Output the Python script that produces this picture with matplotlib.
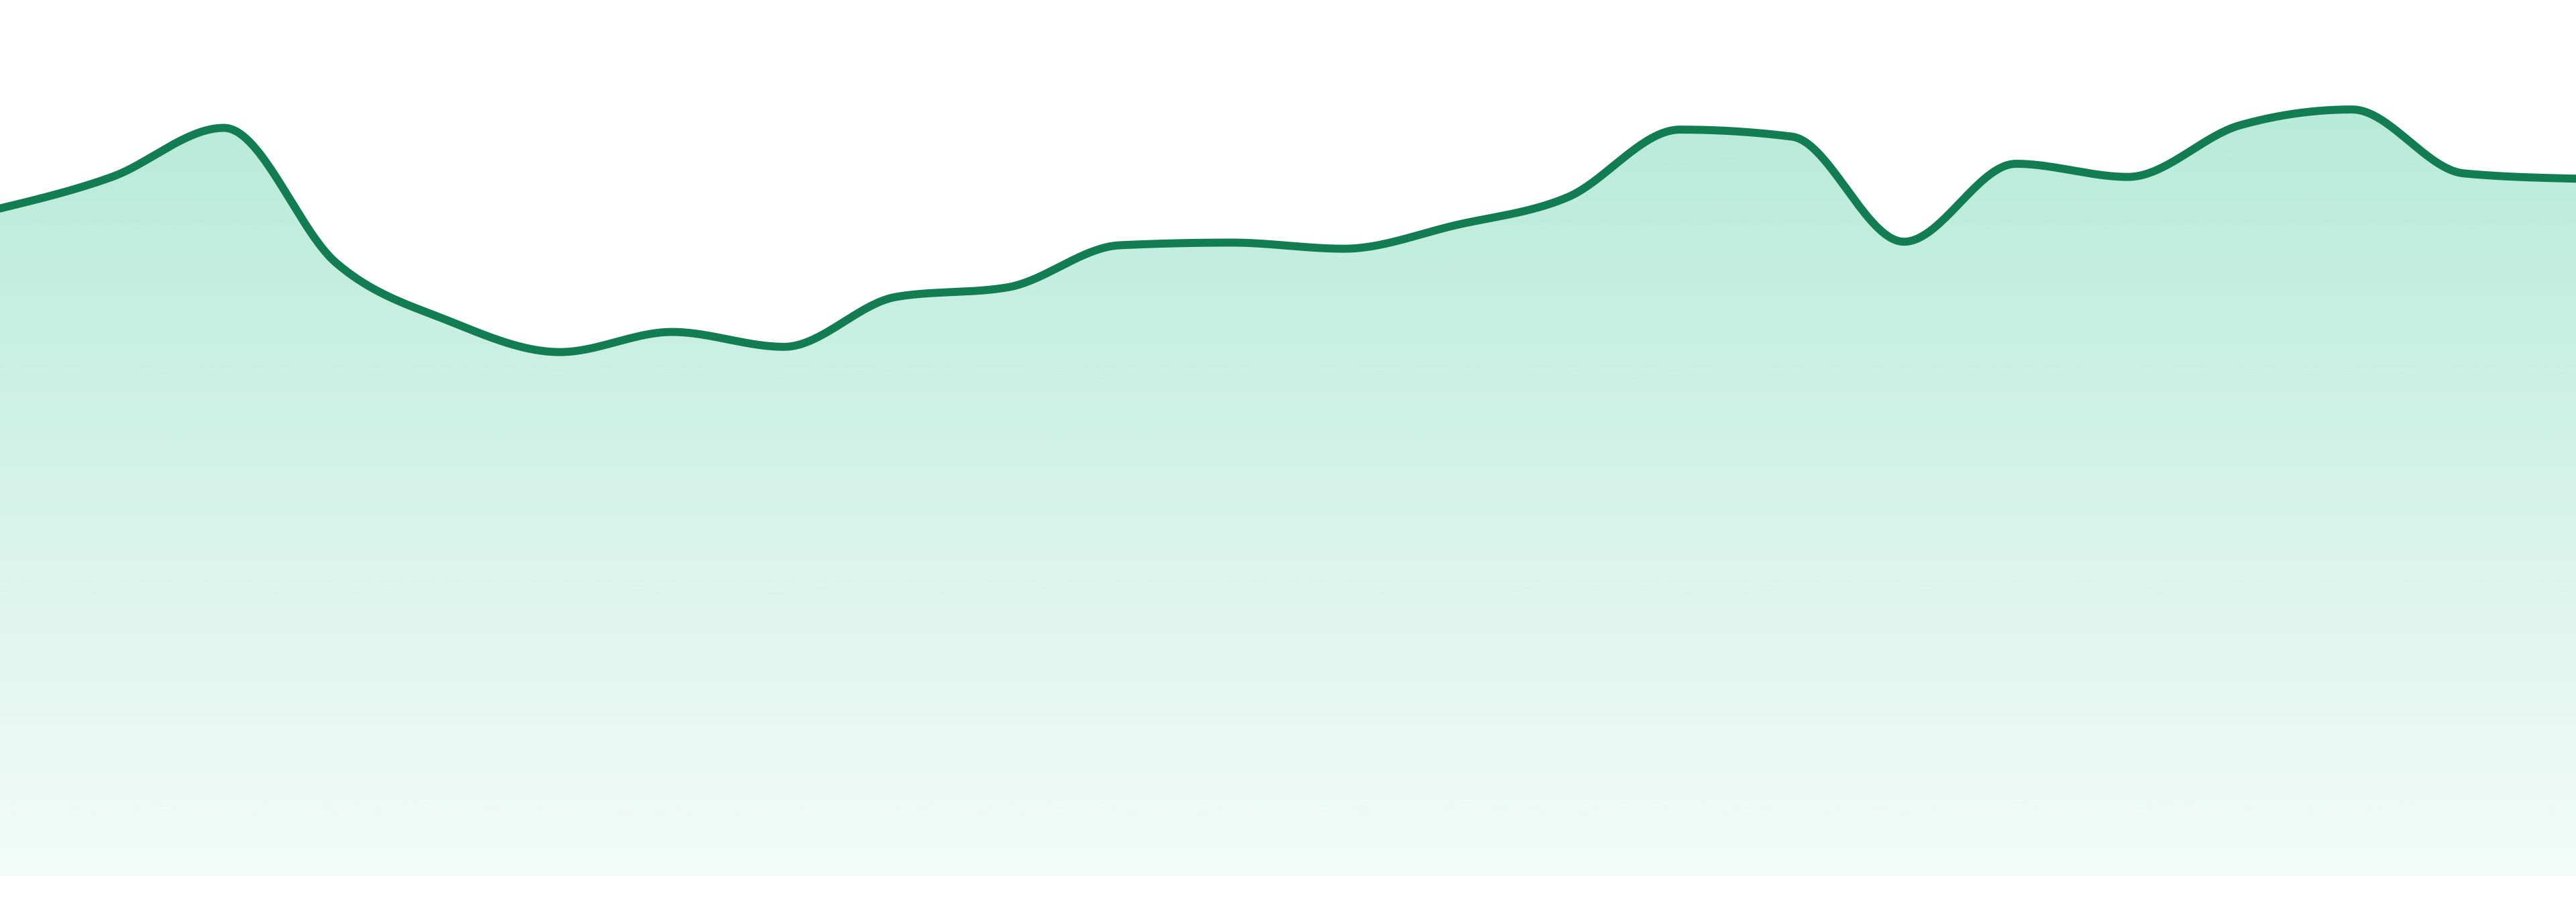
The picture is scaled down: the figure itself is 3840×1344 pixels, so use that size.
import matplotlib
matplotlib.use('Agg')
import matplotlib.pyplot as plt
import numpy as np

# values (baseline = 0, top of plot = 100)
points = list(range(24))
values = [76.2, 79.8, 85.4, 70.0, 63.4, 59.8, 62.1, 60.4, 66.1, 67.2, 72.0, 72.3,
          71.6, 74.3, 77.5, 85.2, 84.4, 72.4, 81.3, 79.8, 85.7, 87.5, 80.2, 79.6]

line_color = '#127c53'
fill_rgb = (16 / 255, 185 / 255, 129 / 255)  # emerald


def monotone_x(xs, ys, n=40):
    # same idea as d3.curveMonotoneX: hermite segments with limited slopes
    xs = np.asarray(xs, float)
    ys = np.asarray(ys, float)
    h = np.diff(xs)
    s = np.diff(ys) / h
    t = np.zeros(len(xs))
    for i in range(1, len(xs) - 1):
        p = (s[i - 1] * h[i] + s[i] * h[i - 1]) / (h[i - 1] + h[i])
        t[i] = (np.sign(s[i - 1]) + np.sign(s[i])) * min(abs(s[i - 1]), abs(s[i]), 0.5 * abs(p))
    t[0] = (3 * s[0] - t[1]) / 2
    t[-1] = (3 * s[-1] - t[-2]) / 2
    out_x, out_y = [], []
    for i in range(len(xs) - 1):
        u = np.linspace(0, 1, n, endpoint=(i == len(xs) - 2))
        h00 = 2 * u**3 - 3 * u**2 + 1
        h10 = u**3 - 2 * u**2 + u
        h01 = -2 * u**3 + 3 * u**2
        h11 = u**3 - u**2
        out_x.append(xs[i] + u * h[i])
        out_y.append(h00 * ys[i] + h10 * h[i] * t[i] + h01 * ys[i + 1] + h11 * h[i] * t[i + 1])
    return np.concatenate(out_x), np.concatenate(out_y)


cx, cy = monotone_x(points, values)

fig = plt.figure(figsize=(38.4, 13.44), dpi=100)
ax = fig.add_axes([0, 39 / 1344, 1, 1305 / 1344])
ax.set_xlim(points[0], points[-1])
ax.set_ylim(0, 100)
ax.axis('off')

# gradient fill under the curve
poly = ax.fill_between(cx, cy, 0, color='none', linewidth=0)
top = max(values)
grad_y = np.linspace(0, 100, 400)
alpha = 0.05 + 0.25 * np.clip(grad_y / top, 0, 1)
img = np.zeros((400, 1, 4))
img[:, 0, 0] = fill_rgb[0]
img[:, 0, 1] = fill_rgb[1]
img[:, 0, 2] = fill_rgb[2]
img[:, 0, 3] = alpha
im = ax.imshow(img, extent=[points[0], points[-1], 0, 100], origin='lower',
               aspect='auto', interpolation='bilinear', zorder=1)
im.set_clip_path(poly.get_paths()[0], transform=ax.transData)

ax.plot(cx, cy, color=line_color, linewidth=8.6, solid_capstyle='round',
        solid_joinstyle='round', zorder=2)

fig.savefig('out.png', dpi=100)
